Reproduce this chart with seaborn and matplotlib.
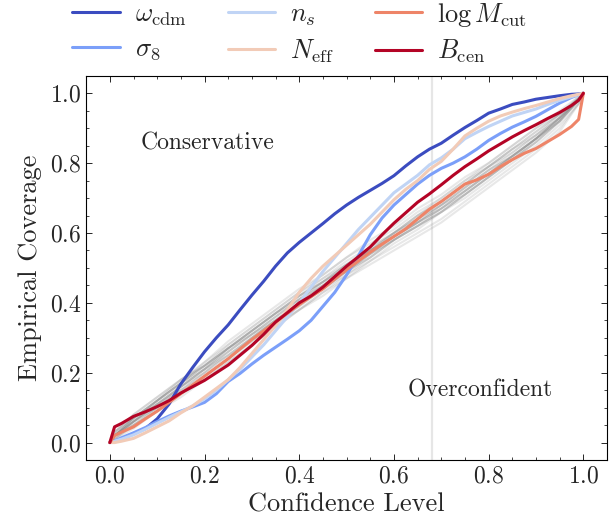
import numpy as np
import pandas as pd
import matplotlib
matplotlib.use("Agg")
import matplotlib.pyplot as plt
from matplotlib.ticker import MultipleLocator
import seaborn as sns

# Confidence levels for the highlighted parameters
confidence_fine = [0.0, 0.01, 0.025, 0.05, 0.075, 0.10, 0.125, 0.15, 0.175, 0.20, 0.225,
                   0.25, 0.275, 0.30, 0.325, 0.35, 0.375, 0.40, 0.425, 0.45, 0.475, 0.50,
                   0.525, 0.55, 0.575, 0.60, 0.625, 0.65, 0.675, 0.70, 0.725, 0.75, 0.775,
                   0.80, 0.825, 0.85, 0.875, 0.90, 0.925, 0.95, 0.975, 0.99, 1.0]

params = [r"$\omega_{\rm cdm}$", r"$\sigma_8$", r"$n_s$",
          r"$N_{\rm eff}$", r"$\log M_{\rm cut}$", r"$B_{\rm cen}$"]
omega_cdm = [0.0, 0.004, 0.010, 0.025, 0.040, 0.068, 0.110, 0.168, 0.215, 0.260, 0.300,
             0.337, 0.380, 0.422, 0.462, 0.505, 0.543, 0.573, 0.600, 0.627, 0.655, 0.680,
             0.702, 0.722, 0.742, 0.764, 0.792, 0.818, 0.840, 0.857, 0.880, 0.902, 0.922,
             0.943, 0.955, 0.968, 0.975, 0.983, 0.988, 0.993, 0.997, 0.998, 1.0]
sigma_8 = [0.0, 0.004, 0.014, 0.028, 0.043, 0.060, 0.076, 0.090, 0.102, 0.115, 0.140,
           0.175, 0.198, 0.225, 0.250, 0.273, 0.296, 0.320, 0.350, 0.390, 0.430, 0.480,
           0.535, 0.595, 0.643, 0.680, 0.710, 0.740, 0.765, 0.785, 0.800, 0.818, 0.840,
           0.865, 0.885, 0.903, 0.918, 0.934, 0.953, 0.972, 0.988, 0.996, 1.0]
n_s = [0.0, 0.004, 0.010, 0.022, 0.038, 0.055, 0.072, 0.088, 0.105, 0.125, 0.150,
       0.180, 0.210, 0.245, 0.280, 0.320, 0.360, 0.400, 0.445, 0.490, 0.530, 0.570,
       0.610, 0.645, 0.680, 0.715, 0.740, 0.765, 0.795, 0.815, 0.840, 0.870, 0.888,
       0.905, 0.920, 0.935, 0.945, 0.955, 0.968, 0.980, 0.990, 0.996, 1.0]
n_eff = [0.0, 0.0, 0.004, 0.012, 0.028, 0.045, 0.062, 0.085, 0.105, 0.130, 0.155,
         0.180, 0.215, 0.255, 0.295, 0.335, 0.380, 0.430, 0.470, 0.505, 0.535, 0.565,
         0.595, 0.625, 0.660, 0.695, 0.725, 0.750, 0.782, 0.805, 0.840, 0.878, 0.900,
         0.920, 0.935, 0.946, 0.956, 0.965, 0.975, 0.985, 0.993, 0.997, 1.0]
log_m_cut = [0.0, 0.020, 0.030, 0.045, 0.068, 0.090, 0.115, 0.140, 0.165, 0.190, 0.215,
             0.240, 0.268, 0.295, 0.320, 0.345, 0.370, 0.395, 0.418, 0.440, 0.468, 0.495,
             0.520, 0.545, 0.568, 0.590, 0.612, 0.640, 0.668, 0.690, 0.715, 0.740, 0.752,
             0.768, 0.790, 0.810, 0.828, 0.842, 0.862, 0.882, 0.905, 0.925, 1.0]
b_cen = [0.0, 0.045, 0.055, 0.075, 0.088, 0.103, 0.120, 0.142, 0.160, 0.178, 0.200,
         0.222, 0.250, 0.278, 0.310, 0.345, 0.372, 0.400, 0.420, 0.445, 0.475, 0.505,
         0.532, 0.560, 0.595, 0.628, 0.658, 0.688, 0.712, 0.738, 0.765, 0.790, 0.812,
         0.835, 0.855, 0.875, 0.893, 0.910, 0.928, 0.945, 0.965, 0.980, 1.0]

# Confidence levels and coverage of the remaining parameters (background)
confidence = [0.0, 0.01, 0.05, 0.10, 0.15, 0.20, 0.25, 0.30, 0.35, 0.40, 0.45, 0.50,
              0.55, 0.60, 0.65, 0.70, 0.75, 0.80, 0.85, 0.90, 0.95, 0.99, 1.0]
others = [
    [0, .02, .07, .12, .17, .23, .28, .33, .38, .43, .47, .52, .56, .60, .65, .69, .74, .79, .84, .89, .94, .985, 1],
    [0, .01, .05, .10, .15, .19, .24, .29, .34, .39, .44, .48, .53, .58, .62, .67, .72, .77, .82, .87, .93, .98, 1],
    [0, .03, .08, .13, .18, .22, .27, .32, .37, .42, .46, .51, .55, .59, .63, .67, .71, .76, .81, .86, .92, .98, 1],
    [0, .02, .06, .10, .16, .21, .25, .30, .35, .40, .45, .49, .54, .58, .62, .66, .70, .75, .80, .85, .91, .97, 1],
    [0, .02, .07, .11, .16, .21, .27, .32, .37, .41, .46, .51, .55, .60, .64, .68, .73, .78, .83, .88, .93, .98, 1],
    [0, .01, .04, .09, .13, .18, .23, .28, .33, .38, .43, .47, .52, .57, .61, .66, .71, .76, .81, .86, .92, .98, 1],
    [0, .03, .07, .12, .17, .22, .28, .33, .38, .43, .48, .53, .57, .61, .66, .70, .75, .80, .85, .90, .94, .99, 1],
    [0, .02, .06, .11, .15, .20, .25, .30, .35, .40, .44, .49, .54, .59, .63, .68, .73, .78, .82, .87, .93, .985, 1],
    [0, .02, .05, .10, .14, .19, .24, .30, .35, .39, .44, .49, .53, .58, .62, .66, .71, .76, .81, .87, .92, .98, 1],
    [0, .03, .08, .13, .18, .23, .29, .34, .39, .44, .48, .53, .58, .62, .67, .71, .76, .80, .85, .90, .95, .99, 1],
    [0, .02, .06, .12, .17, .21, .26, .31, .36, .41, .45, .50, .55, .59, .64, .69, .74, .79, .84, .88, .94, .985, 1],
    [0, .01, .05, .09, .14, .19, .24, .29, .34, .38, .43, .48, .52, .56, .60, .64, .69, .74, .79, .84, .90, .97, 1],
    [0, .02, .07, .12, .18, .22, .27, .31, .36, .41, .46, .50, .55, .60, .65, .69, .74, .79, .83, .88, .93, .985, 1],
    [0, .02, .06, .11, .16, .20, .26, .31, .36, .41, .45, .50, .54, .59, .63, .67, .72, .77, .82, .87, .925, .98, 1],
    [0, .02, .06, .11, .16, .21, .26, .31, .35, .40, .45, .49, .54, .58, .63, .68, .72, .77, .82, .87, .92, .98, 1],
    [0, .03, .07, .12, .17, .22, .27, .32, .37, .42, .47, .51, .56, .60, .65, .70, .75, .79, .84, .89, .94, .985, 1],
    [0, .02, .05, .09, .14, .18, .23, .28, .33, .38, .42, .47, .51, .55, .59, .63, .68, .73, .78, .83, .89, .97, 1],
    [0, .02, .07, .12, .17, .22, .27, .32, .37, .42, .46, .51, .55, .60, .64, .68, .73, .78, .82, .87, .93, .985, 1],
    [0, .01, .06, .10, .15, .20, .25, .30, .35, .40, .44, .49, .53, .58, .62, .66, .71, .76, .81, .86, .92, .98, 1],
    [0, .02, .06, .11, .16, .21, .27, .32, .37, .42, .46, .50, .55, .59, .63, .67, .72, .77, .82, .87, .93, .985, 1],
]

sns.set_style("ticks")
plt.rcParams.update({
    "font.family": "serif",
    "font.serif": ["cmr10"],
    "mathtext.fontset": "cm",
    "axes.formatter.use_mathtext": True,
    "axes.unicode_minus": False,
    "xtick.direction": "in",
    "ytick.direction": "in",
    "xtick.top": True,
    "ytick.right": True,
    "xtick.minor.visible": True,
    "ytick.minor.visible": True,
    "xtick.major.size": 4,
    "ytick.major.size": 4,
    "xtick.minor.size": 2,
    "ytick.minor.size": 2,
    "xtick.major.width": 0.7,
    "ytick.major.width": 0.7,
    "xtick.minor.width": 0.6,
    "ytick.minor.width": 0.6,
    "axes.linewidth": 0.8,
    "axes.edgecolor": "black",
})

main = pd.DataFrame({
    "confidence": confidence_fine * len(params),
    "coverage": omega_cdm + sigma_8 + n_s + n_eff + log_m_cut + b_cen,
    "param": [p for p in params for _ in confidence_fine],
})
background = pd.DataFrame({
    "confidence": confidence * len(others),
    "coverage": [v for row in others for v in row],
    "run": [i for i in range(len(others)) for _ in confidence],
})

colors = [matplotlib.colormaps["coolwarm"](v) for v in np.linspace(0, 1, len(params))]

fig, ax = plt.subplots(figsize=(6.11, 5.30), dpi=100)
fig.subplots_adjust(left=0.141, right=0.9935, bottom=0.132, top=0.857)

ax.axvline(0.68, color="#e6e6e6", lw=1.6, zorder=0)

sns.lineplot(data=background, x="confidence", y="coverage", units="run",
             estimator=None, color="grey", alpha=0.18, lw=1.5, legend=False, ax=ax)
sns.lineplot(data=main, x="confidence", y="coverage", hue="param", hue_order=params,
             palette=colors, estimator=None, errorbar=None, lw=2.2, ax=ax)

ax.text(0.207, 0.855, "Conservative", fontsize=17, ha="center", va="center")
ax.text(0.783, 0.149, "Overconfident", fontsize=17, ha="center", va="center")

ax.set_xlabel("Confidence Level", fontsize=19, labelpad=4)
ax.set_ylabel("Empirical Coverage", fontsize=19, labelpad=6)
ax.xaxis.set_major_locator(MultipleLocator(0.2))
ax.yaxis.set_major_locator(MultipleLocator(0.2))
ax.xaxis.set_minor_locator(MultipleLocator(0.05))
ax.yaxis.set_minor_locator(MultipleLocator(0.05))
ax.tick_params(labelsize=17)
ax.set_xlim(-0.05, 1.05)
ax.set_ylim(-0.05, 1.05)

handles, labels = ax.get_legend_handles_labels()
for h in handles:
    h.set_linewidth(2.2)
ax.legend(handles, labels, ncol=3, loc="lower left", bbox_to_anchor=(-0.047, 1.0),
          frameon=False, fontsize=19, handlelength=1.8, columnspacing=1.55,
          handletextpad=0.57, labelspacing=0.35, borderaxespad=0.0)

fig.savefig("out.png", dpi=100)
